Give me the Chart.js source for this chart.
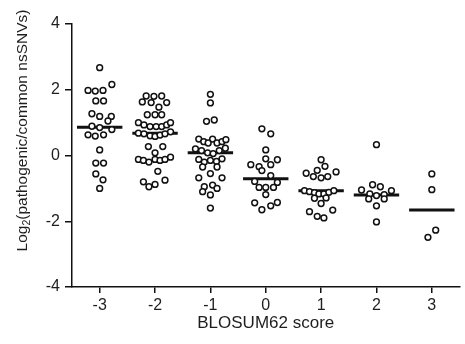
<!DOCTYPE html>
<html lang="en">
<head>
    <meta charset="UTF-8">
    <title>BLOSUM62 score vs pathogenic/common nsSNVs</title>
    <script src="https://cdn.jsdelivr.net/npm/chart.js"></script>
    <style>
        body {
            margin: 0;
            padding: 0;
            background-color: #ffffff;
        }
        #wrap {
            width: 465px;
            height: 344px;
        }
    </style>
</head>
<body>

    <div id="wrap">
        <canvas id="blosumChart" width="465" height="344"></canvas>
    </div>

    <script>
        // BLOSUM62 score categories (x axis ticks)
        const scores = [-3, -2, -1, 0, 1, 2, 3];

        // median per score
        const medians = [0.86, 0.68, 0.08, -0.71, -1.07, -1.2, -1.66];

        // log2 ratio values for each score
        const valsM3 = [2.67, 1.98, 1.96, 1.98, 2.16, 1.66, 1.66, 1.27, 1.19, 1.19, 1.05, 0.89, 0.85, 0.79,
            0.63, 0.59, 0.63, 0.17, -0.23, -0.23, -0.56, -0.74, -1.0];
        const valsM2 = [1.81, 1.80, 1.81, 1.63, 1.61, 1.61, 1.47, 1.24, 1.24, 1.24,
            1.0, 0.93, 0.88, 0.88, 0.88, 0.93, 1.0,
            0.68, 0.66, 0.6, 0.58, 0.62, 0.66, 0.72,
            0.27, 0.27, 0.08,
            -0.12, -0.15, -0.2, -0.12, -0.15, -0.12, -0.05,
            -0.48, -0.8, -0.95, -0.88, -0.75];
        const valsM1 = [1.86, 1.60, 1.04, 1.08,
            0.5, 0.42, 0.38, 0.5, 0.38, 0.42, 0.48,
            0.2, 0.15, 0.08, 0.06, 0.15, 0.22,
            -0.12, -0.2, -0.15, -0.18, -0.1,
            -0.35, -0.35, -0.68, -0.55, -0.68, -0.95, -0.9, -1.0, -1.1, -1.2, -1.6];
        const vals0 = [0.81, 0.66, 0.17, -0.1, -0.28, -0.34, -0.46, -0.28, -0.13, -0.61,
            -0.79, -0.82, -0.97, -0.97, -0.97, -1.19, -1.44, -1.53, -1.43, -1.65];
        const valsP1 = [-0.13, -0.33, -0.45, -0.54, -0.64, -0.68, -0.64, -0.5,
            -1.07, -1.1, -1.13, -1.17, -1.17, -1.12, -1.07,
            -1.3, -1.29, -1.46, -1.71, -1.85, -1.9, -1.66];
        const valsP2 = [0.33, -1.05, -0.89, -0.95, -1.07, -1.17, -1.22, -1.19, -1.32, -1.32, -1.53, -2.02];
        const valsP3 = [-0.56, -1.04, -2.27, -2.49];

        // horizontal scatter of each point around its score (in score units)
        const spreadM3 = [0, -0.21, -0.08, 0.06, 0.22, -0.07, 0.07, -0.14, 0, 0.21, 0.15, -0.14, 0, 0.22,
            -0.21, -0.08, 0.07, 0, -0.07, 0.07, -0.07, 0.06, 0];
        const spreadM2 = [-0.16, -0.02, 0.12, -0.23, -0.07, 0.21, 0.07, -0.14, 0, 0.12,
            -0.3, -0.2, -0.09, 0.02, 0.12, 0.21, 0.28,
            -0.3, -0.2, -0.09, 0, 0.09, 0.18, 0.28,
            -0.12, 0.14, 0,
            -0.3, -0.21, -0.11, 0, 0.09, 0.18, 0.28,
            0.05, -0.21, -0.11, 0, 0.18];
        const spreadM1 = [0, 0, -0.07, 0.07,
            -0.21, -0.12, -0.04, 0.04, 0.12, 0.21, 0.28,
            -0.27, -0.16, -0.05, 0.05, 0.16, 0.27,
            -0.21, -0.11, 0, 0.11, 0.21,
            -0.14, 0.12, -0.21, 0, 0.21, -0.11, 0.04, 0.12, -0.14, 0, 0];
        const spread0 = [-0.07, 0.09, 0, 0, -0.27, -0.12, -0.07, 0.09, 0.21, 0.09,
            -0.2, 0.21, -0.12, 0, 0.14, 0, -0.2, 0.09, 0.21, -0.07];
        const spreadP1 = [0, 0.07, -0.07, -0.27, -0.14, 0, 0.12, 0.27,
            -0.3, -0.21, -0.12, -0.04, 0.05, 0.14, 0.23,
            -0.12, 0.09, 0, -0.21, -0.07, 0.05, 0.21];
        const spreadP2 = [0, -0.27, -0.07, 0.07, 0.27, -0.12, 0, 0.14, -0.14, 0.14, 0, 0];
        const spreadP3 = [0, 0, 0.07, -0.07];

        const groupVals = [valsM3, valsM2, valsM1, vals0, valsP1, valsP2, valsP3];
        const groupSpread = [spreadM3, spreadM2, spreadM1, spread0, spreadP1, spreadP2, spreadP3];

        const ink = '#111111';
        const textColor = '#1e1e1e';
        const fontFamily = '"Liberation Sans", Arial, sans-serif';

        const datasets = [];
        scores.forEach((s, g) => {
            datasets.push({
                data: groupVals[g].map((v, i) => ({ x: s + groupSpread[g][i], y: v })),
                pointRadius: 2.9,
                pointBorderWidth: 1.5,
                pointBorderColor: ink,
                pointBackgroundColor: '#ffffff',
                order: 0
            });
        });
        // median bars
        scores.forEach((s, g) => {
            datasets.push({
                data: [{ x: s - 0.41, y: medians[g] }, { x: s + 0.41, y: medians[g] }],
                showLine: true,
                borderColor: ink,
                borderWidth: 3,
                pointRadius: 0,
                order: 1
            });
        });

        // y axis title with a subscript 2
        const yTitle = {
            id: 'yTitle',
            afterDraw(chart) {
                const ctx = chart.ctx;
                const main = '15.5px ' + fontFamily;
                const sub = '10.5px ' + fontFamily;
                ctx.save();
                ctx.fillStyle = textColor;
                ctx.textBaseline = 'alphabetic';
                ctx.textAlign = 'left';
                ctx.font = main;
                const w1 = ctx.measureText('Log').width;
                const w3 = ctx.measureText('(pathogenic/common nsSNVs)').width;
                ctx.font = sub;
                const w2 = ctx.measureText('2').width;
                const total = w1 + w2 + w3;
                ctx.translate(26.5, 130.5);
                ctx.rotate(-Math.PI / 2);
                let x = -total / 2;
                ctx.font = main;
                ctx.fillText('Log', x, 0);
                x += w1;
                ctx.font = sub;
                ctx.fillText('2', x, 3);
                x += w2;
                ctx.font = main;
                ctx.fillText('(pathogenic/common nsSNVs)', x, 0);
                ctx.restore();
            }
        };

        const config = {
            type: 'scatter',
            data: { datasets: datasets },
            options: {
                responsive: false,
                animation: false,
                devicePixelRatio: 1,
                layout: { padding: { left: 0, right: 0, top: 24, bottom: 0 } },
                plugins: {
                    legend: { display: false },
                    tooltip: { enabled: false }
                },
                scales: {
                    x: {
                        type: 'linear',
                        position: 'bottom',
                        min: -3.5,
                        max: 3.5,
                        afterBuildTicks: scale => {
                            scale.ticks = scores.map(v => ({ value: v }));
                        },
                        afterFit: scale => { scale.height = 57; },
                        ticks: {
                            color: textColor,
                            font: { family: fontFamily, size: 16 },
                            padding: 3
                        },
                        grid: {
                            drawOnChartArea: false,
                            tickLength: 6,
                            color: ink,
                            lineWidth: 1.5
                        },
                        border: { color: ink, width: 1.5 },
                        title: {
                            display: true,
                            text: 'BLOSUM62 score',
                            color: textColor,
                            font: { family: fontFamily, size: 17 },
                            padding: { top: 0, bottom: 10 }
                        }
                    },
                    y: {
                        min: -4,
                        max: 4,
                        afterFit: scale => { scale.width = 72; },
                        ticks: {
                            stepSize: 2,
                            color: textColor,
                            font: { family: fontFamily, size: 16 },
                            padding: 5
                        },
                        grid: {
                            drawOnChartArea: false,
                            tickLength: 7,
                            color: ink,
                            lineWidth: 1.5
                        },
                        border: { color: ink, width: 1.5 }
                    }
                }
            },
            plugins: [yTitle]
        };

        const blosumChart = new Chart(
            document.getElementById('blosumChart'),
            config
        );
    </script>

</body>
</html>
